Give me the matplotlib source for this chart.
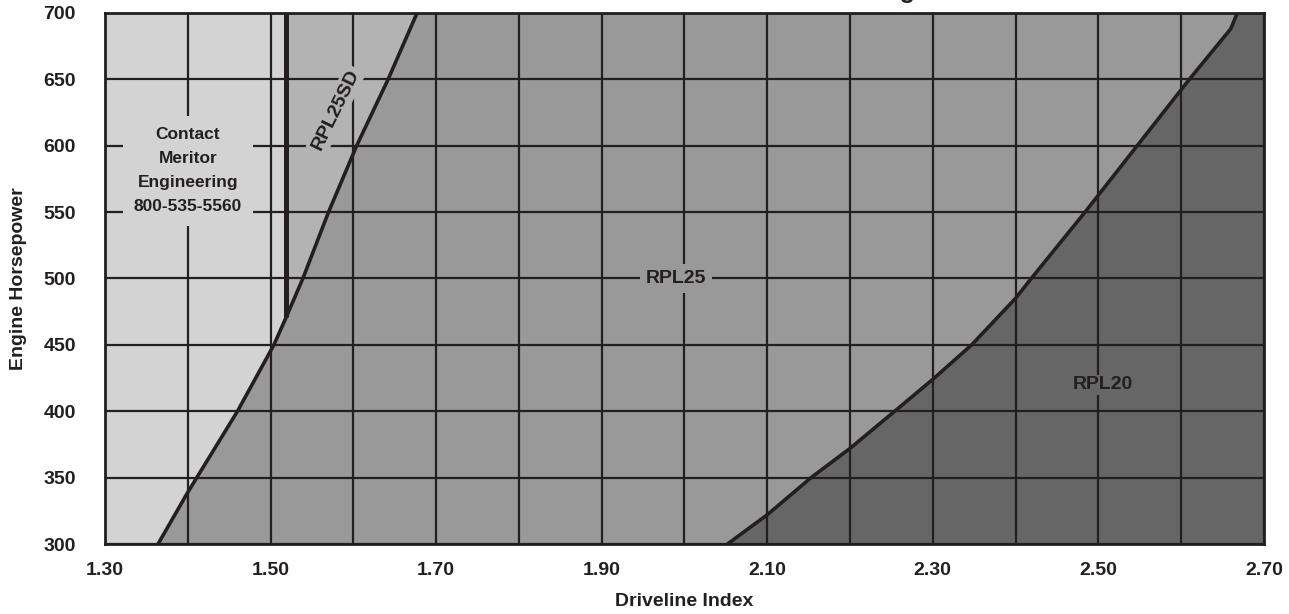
import matplotlib
matplotlib.use("Agg")
import matplotlib.pyplot as plt
import numpy as np

plt.rcParams['font.family'] = ['Liberation Sans', 'DejaVu Sans']
plt.rcParams['font.weight'] = 'bold'
plt.rcParams['axes.labelweight'] = 'bold'

# -- data --
# left boundary (RPL25 / contact-engineering), x = driveline index, y = hp
left_x = [1.364, 1.400, 1.460, 1.504, 1.519, 1.539, 1.570, 1.604, 1.642, 1.677]
left_hp = [300, 339, 400, 450, 471, 500, 550, 600, 650, 700]

# RPL25SD vertical limit
sd_x = 1.519
sd_hp = [471, 700]

# RPL20 boundary
rpl20_x = [2.052, 2.100, 2.153, 2.200, 2.254, 2.300, 2.347, 2.400, 2.419,
           2.484, 2.547, 2.610, 2.660, 2.668]
rpl20_hp = [300, 322, 350, 372, 400, 424, 450, 485, 500,
            550, 600, 650, 688, 700]

x_major = [1.30, 1.50, 1.70, 1.90, 2.10, 2.30, 2.50, 2.70]
x_minor = [1.40, 1.60, 1.80, 2.00, 2.20, 2.40, 2.60]
y_ticks = [300, 350, 400, 450, 500, 550, 600, 650, 700]

ink = '#231f20'
c_light = '#d3d3d3'
c_sd = '#b3b3b3'
c_mid = '#999999'
c_dark = '#666666'

fig = plt.figure(figsize=(12.89, 6.14), dpi=100)
ax = fig.add_axes([0.0815, 0.114, 0.899, 0.865])
ax.set_xlim(1.30, 2.70)
ax.set_ylim(300, 700)
ax.set_facecolor(c_mid)

lx = np.array(left_x)
lh = np.array(left_hp)
ax.fill_betweenx(lh, 1.30, lx, color=c_light, lw=0, zorder=1)
m = lh >= sd_hp[0]
ax.fill_betweenx(lh[m], sd_x, lx[m], color=c_sd, lw=0, zorder=1)
ax.fill_betweenx(rpl20_hp, rpl20_x, 2.70, color=c_dark, lw=0, zorder=1)

# grid
ax.set_xticks(x_major)
ax.set_xticks(x_minor, minor=True)
ax.set_yticks(y_ticks)
ax.set_xticklabels(['%.2f' % v for v in x_major])
ax.grid(True, which='both', color=ink, lw=1.6, zorder=2)
ax.set_axisbelow(False)
ax.tick_params(which='both', length=0, labelsize=14, colors=ink)
ax.tick_params(axis='x', pad=13)
ax.tick_params(axis='y', pad=21)
for s in ax.spines.values():
    s.set_color(ink)
    s.set_linewidth(2)
    s.set_zorder(4)

# boundaries
ax.plot(left_x, left_hp, color=ink, lw=2.6, zorder=3, solid_capstyle='butt')
ax.plot([sd_x, sd_x], sd_hp, color=ink, lw=3.6, zorder=3, solid_capstyle='butt')
ax.plot(rpl20_x, rpl20_hp, color=ink, lw=2.6, zorder=3, solid_capstyle='butt')

# region labels
ax.text(1.40, 581, 'Contact\nMeritor\nEngineering\n800-535-5560', ha='center', va='center',
        fontsize=12.5, color=ink, linespacing=1.75, zorder=3.5,
        bbox=dict(facecolor=c_light, edgecolor='none', pad=8))
ax.text(1.579, 627, 'RPL25SD', ha='center', va='center', rotation=64, fontsize=14,
        color=ink, zorder=3.5, bbox=dict(facecolor=c_sd, edgecolor='none', pad=2))
ax.text(1.99, 500, 'RPL25', ha='center', va='center', fontsize=14, color=ink, zorder=3.5,
        bbox=dict(facecolor=c_mid, edgecolor='none', pad=4))
ax.text(2.506, 420, 'RPL20', ha='center', va='center', fontsize=14, color=ink, zorder=3.5,
        bbox=dict(facecolor=c_dark, edgecolor='none', pad=1))

ax.set_xlabel('Driveline Index', fontsize=14, color=ink, labelpad=10)
ax.set_ylabel('Engine Horsepower', fontsize=14, color=ink)
ax.yaxis.set_label_coords(-0.067, 0.5)

# title sits mostly above the page edge, as in the source scan
fig.text(0.540, 1.0025, 'Chart 1 - RPL Series Driveline Rating', ha='center', va='baseline',
         fontsize=18, color=ink)

fig.savefig('out.png', dpi=100)
